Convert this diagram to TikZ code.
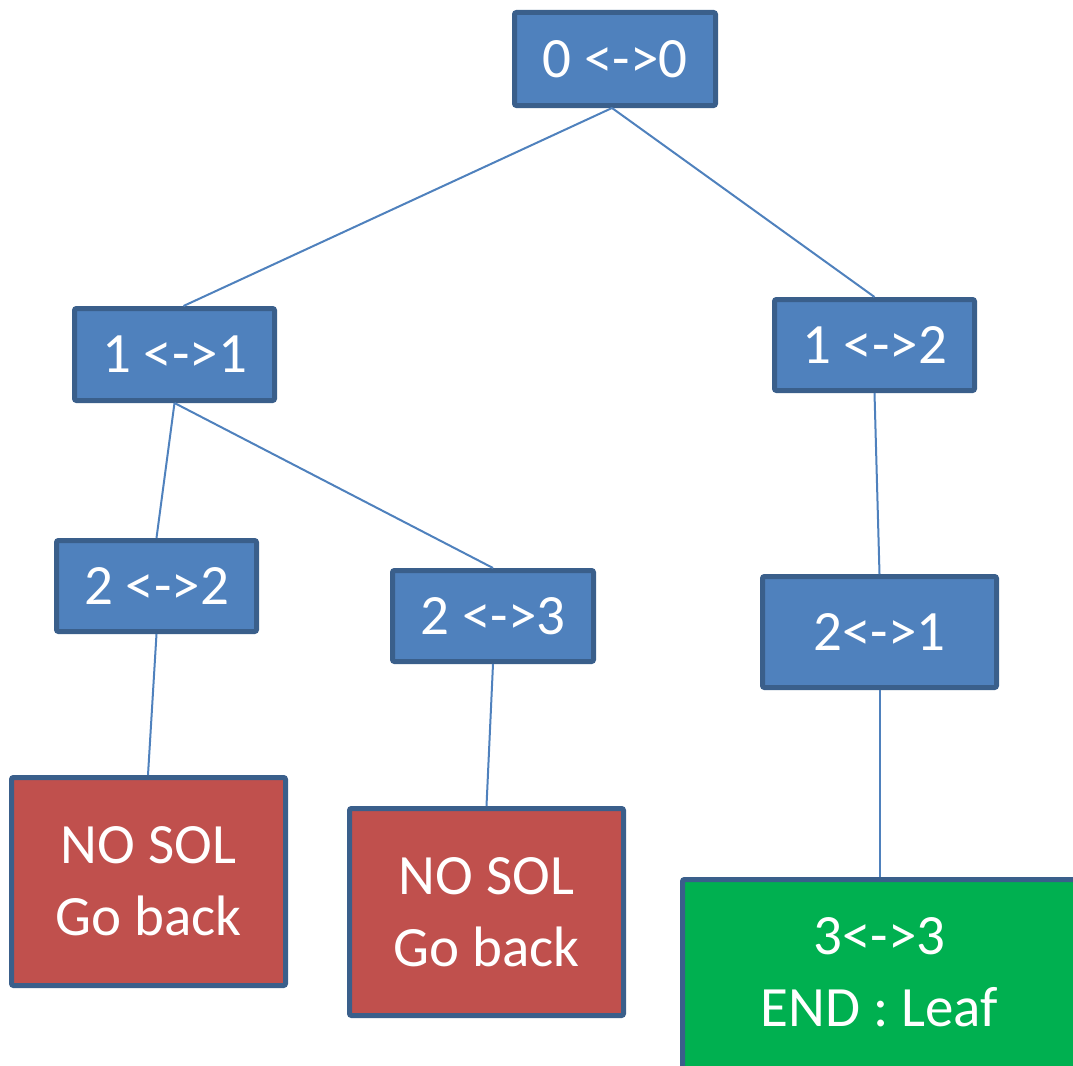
\documentclass[tikz,border=0pt]{standalone}
\usepackage{fontspec}
\setmainfont{Carlito}
\usepackage{xcolor}
\definecolor{nodeblue}{HTML}{4F81BD}
\definecolor{rimblue}{HTML}{3A5F8B}
\definecolor{failred}{HTML}{C0504D}
\definecolor{leafgreen}{HTML}{00B050}

\begin{document}
\begin{tikzpicture}[
x=1pt, y=-1pt,
box/.style={draw=rimblue, line width=5pt, rounded corners=2pt, text=white, align=center, inner sep=0pt, font=\fontsize{57}{72}\selectfont},
pairbox/.style={box, fill=nodeblue, minimum width=200pt, minimum height=92pt},
failbox/.style={box, fill=failred, minimum width=274pt, minimum height=208pt},
leafbox/.style={box, fill=leafgreen, minimum width=394pt, minimum height=208pt, text depth=23pt},
link/.style={nodeblue, line width=2pt}
]
\useasboundingbox (0,0) rectangle (1073,1065);
\clip (0,0) rectangle (1073,1065);

% level 0 and 1
\node[pairbox, minimum width=201pt, minimum height=93pt] (root) at (615,59) {0 <->0};
\node[pairbox] (p11) at (174.5,354.5) {1 <->1};
\node[pairbox, minimum height=91pt] (p12) at (874.5,345) {1 <->2};

% level 2
\node[pairbox, minimum height=91pt] (p22) at (156.5,586) {2 <->2};
\node[pairbox, minimum width=201pt, minimum height=91pt] (p23) at (493,616) {2 <->3};
\node[pairbox, minimum width=234pt, minimum height=111pt] (p21) at (879.5,632) {2<->1};

% ends
\node[failbox] (fail1) at (148.5,881.5) {NO SOL\\Go back};
\node[failbox, minimum height=207pt] (fail2) at (486.5,912) {NO SOL\\Go back};
\node[leafbox] (leaf) at (879.5,983.5) {3<->3\\END : Leaf};

\draw[link] ([xshift=-3pt]root.south) -- ([xshift=9pt]p11.north);
\draw[link] ([xshift=-3pt]root.south) -- (p12.north);
\draw[link] (p11.south) -- (p22.north);
\draw[link] (p11.south) -- (p23.north);
\draw[link] (p12.south) -- (p21.north);
\draw[link] (p22.south) -- ([xshift=-0.5pt]fail1.north);
\draw[link] (p23.south) -- (fail2.north);
\draw[link] (p21.south) -- (leaf.north);
\end{tikzpicture}
\end{document}
